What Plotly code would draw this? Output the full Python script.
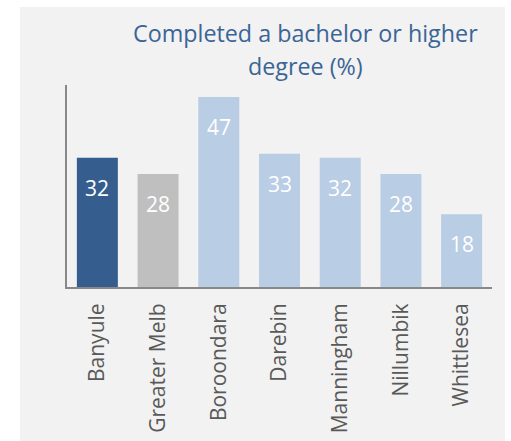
import plotly.graph_objects as go

categories = ["Banyule", "Greater Melb", "Boroondara", "Darebin", "Manningham", "Nillumbik", "Whittlesea"]
values = [32, 28, 47, 33, 32, 28, 18]
bar_colors = ["#355E8E", "#BFBFBF", "#B9CDE4", "#B9CDE4", "#B9CDE4", "#B9CDE4", "#B9CDE4"]
title_lines = ["Completed a bachelor or higher", "degree (%)"]

W, H = 511, 441
L, R, T, B = 67, 19, 85, 154
pw, ph = W - L - R, H - T - B

fig = go.Figure(go.Bar(
    x=categories, y=values, marker=dict(color=bar_colors, line=dict(width=0)),
    hoverinfo="skip",
))

FONT = "Open Sans"
for c, v in zip(categories, values):
    fig.add_annotation(x=c, y=v, text=str(v), showarrow=False, yanchor="top", yshift=-14,
                       font=dict(family=FONT, size=21, color="white"))

for i, line in enumerate(title_lines):
    fig.add_annotation(xref="paper", yref="paper", x=(305 - L) / pw, y=(H - B - 15 - 33 * i) / ph,
                       text=line, showarrow=False, xanchor="center", yanchor="top",
                       font=dict(family=FONT, size=23.3, color="#3A6596"), align="center")

fig.add_shape(type="rect", xref="paper", yref="paper", layer="below",
              x0=(20 - L) / pw, x1=(505 - L) / pw, y0=(H - B - 441) / ph - 0.05, y1=(H - B - 7) / ph,
              fillcolor="#F2F2F2", line=dict(width=0))

fig.update_layout(
    width=W, height=H, margin=dict(l=L, r=R, t=T, b=B, autoexpand=False),
    paper_bgcolor="white", plot_bgcolor="rgba(0,0,0,0)",
    bargap=0.325, showlegend=False,
    xaxis=dict(showline=True, linecolor="#888888", linewidth=2, tickangle=-90, ticks="",
               ticklabelstandoff=6,
               tickfont=dict(family=FONT, size=21, color="#595959"), showgrid=False),
    yaxis=dict(range=[0, 50], showline=True, linecolor="#888888", linewidth=1.5,
               showticklabels=False, ticks="", showgrid=False, zeroline=False),
)

fig.write_html("out.html", config={"displayModeBar": False},
               post_script="document.body.style.margin='0';document.body.style.overflow='hidden';")
